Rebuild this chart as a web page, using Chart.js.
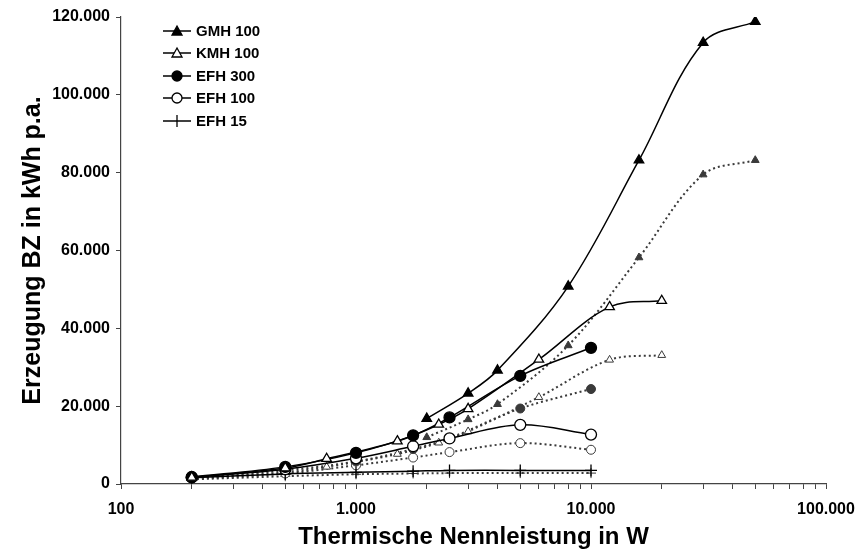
<!DOCTYPE html>
<html>
<head>
<meta charset="utf-8">
<script src="https://cdn.jsdelivr.net/npm/chart.js@4/dist/chart.umd.min.js"></script>
<style>
  body { margin: 0; background: #fff; }
  #wrap { width: 860px; height: 554px; }
</style>
</head>
<body>
<div id="wrap"><canvas id="chart" width="860" height="554"></canvas></div>
<script>
// x values (thermische Nennleistung in W) per Gebaeudetyp
const xGMH = [2000, 3000, 4000, 8000, 16000, 30000, 50000];
const xKMH = [200, 500, 750, 1500, 2250, 3000, 6000, 12000, 20000];
const xEFH = [200, 500, 1000, 1750, 2500, 5000, 10000];

// Erzeugung BZ in kWh p.a. (solid = labelled series, dotted = second variant)
const gmh100 = [16800, 23300, 29200, 50800, 83200, 113400, 118800];
const gmh100Dot = [12000, 16600, 20500, 35600, 58200, 79500, 83200];
const kmh100 = [1700, 4100, 6500, 11000, 15300, 19300, 32000, 45500, 47100];
const kmh100Dot = [1500, 3000, 4400, 7700, 10600, 13500, 22300, 31900, 33100];
const efh300 = [1800, 4400, 8000, 12500, 17100, 27800, 35000];
const efh300Dot = [1500, 3500, 5800, 9000, 11800, 19400, 24400];
const efh100 = [1700, 3800, 6600, 9700, 11700, 15200, 12700];
const efh100Dot = [1300, 2700, 4800, 6800, 8200, 10500, 8800];
const efh15 = [1600, 2600, 3000, 3300, 3500, 3500, 3500];
const efh15Dot = [1200, 2000, 2500, 2700, 2800, 2800, 2800];

const legendLabels = ['GMH 100', 'KMH 100', 'EFH 300', 'EFH 100', 'EFH 15'];

// log axis ticks: every 1..9 per decade from 100 to 100.000
const xTickValues = [];
[100, 1000, 10000].forEach(d => {
    for (let m = 1; m < 10; m++) xTickValues.push(d * m);
});
xTickValues.push(100000);

const FONT = "Arial, 'Liberation Sans', sans-serif";

function fmt(v) {
    return String(v).replace(/\B(?=(\d{3})+(?!\d))/g, '.');
}

function pts(xs, ys) {
    return xs.map((x, i) => ({ x: x, y: ys[i] }));
}

function solid(label, xs, ys, style, fill) {
    return {
        label: label,
        data: pts(xs, ys),
        borderColor: '#000',
        borderWidth: 1.5,
        pointStyle: style,
        pointRadius: style === 'cross' ? 6 : 5.5,
        pointBorderWidth: 1.3,
        pointBackgroundColor: fill,
        pointBorderColor: '#000',
        tension: 0.35,
        fill: false,
        order: 1
    };
}

function dotted(xs, ys, style, fill) {
    return {
        label: '',
        data: pts(xs, ys),
        borderColor: '#3a3a3a',
        borderWidth: 2,
        borderDash: [2, 3],
        pointStyle: style,
        pointRadius: style === 'cross' ? 5 : 4.5,
        pointBorderWidth: 1,
        pointBackgroundColor: fill,
        pointBorderColor: '#3a3a3a',
        tension: 0.35,
        fill: false,
        order: 2
    };
}

const datasets = [
    solid('GMH 100', xGMH, gmh100, 'triangle', '#000'),
    solid('KMH 100', xKMH, kmh100, 'triangle', '#fff'),
    solid('EFH 300', xEFH, efh300, 'circle', '#000'),
    solid('EFH 100', xEFH, efh100, 'circle', '#fff'),
    solid('EFH 15', xEFH, efh15, 'cross', '#000'),
    dotted(xGMH, gmh100Dot, 'triangle', '#3a3a3a'),
    dotted(xKMH, kmh100Dot, 'triangle', '#fff'),
    dotted(xEFH, efh300Dot, 'circle', '#3a3a3a'),
    dotted(xEFH, efh100Dot, 'circle', '#fff'),
    dotted(xEFH, efh15Dot, 'cross', '#3a3a3a')
];

// legend in the upper left corner: short line with marker, bold label
const legendPlugin = {
    id: 'lineLegend',
    afterDraw(chart) {
        const ctx = chart.ctx;
        const rowsY = [31, 53, 76, 98, 121];
        ctx.save();
        legendLabels.forEach((label, i) => {
            const ds = chart.data.datasets[i];
            const y = rowsY[i];
            ctx.strokeStyle = '#000';
            ctx.lineWidth = 1.5;
            ctx.beginPath();
            ctx.moveTo(163, y);
            ctx.lineTo(191, y);
            ctx.stroke();
            const cx = 177;
            ctx.fillStyle = ds.pointBackgroundColor;
            ctx.lineWidth = 1.3;
            ctx.beginPath();
            if (ds.pointStyle === 'triangle') {
                ctx.moveTo(cx, y - 5);
                ctx.lineTo(cx + 5, y + 4);
                ctx.lineTo(cx - 5, y + 4);
                ctx.closePath();
                ctx.fill();
                ctx.stroke();
            } else if (ds.pointStyle === 'circle') {
                ctx.arc(cx, y, 5, 0, Math.PI * 2);
                ctx.fill();
                ctx.stroke();
            } else {
                ctx.moveTo(cx, y - 6);
                ctx.lineTo(cx, y + 6);
                ctx.stroke();
            }
            ctx.fillStyle = '#000';
            ctx.font = 'bold 15px ' + FONT;
            ctx.textAlign = 'left';
            ctx.textBaseline = 'middle';
            ctx.fillText(label, 196, y + 1);
        });
        ctx.restore();
    }
};

new Chart(document.getElementById('chart').getContext('2d'), {
    type: 'line',
    data: { datasets: datasets },
    options: {
        responsive: false,
        animation: false,
        layout: { padding: { top: 17, right: 34, left: 0, bottom: 0 } },
        plugins: {
            legend: { display: false },
            tooltip: { enabled: false }
        },
        scales: {
            x: {
                type: 'logarithmic',
                min: 100,
                max: 100000,
                afterBuildTicks(scale) {
                    scale.ticks = xTickValues.map(v => ({ value: v }));
                },
                afterFit(scale) {
                    scale.height = 70;
                    scale.paddingLeft = 0;
                    scale.paddingRight = 0;
                },
                border: { color: '#444', width: 1.2 },
                grid: { drawOnChartArea: false, drawTicks: true, tickLength: 5, color: '#444' },
                ticks: {
                    autoSkip: false,
                    maxRotation: 0,
                    padding: 11,
                    color: '#000',
                    font: { family: FONT, size: 16, weight: 'bold' },
                    callback: (v) => [100, 1000, 10000, 100000].includes(v) ? fmt(v) : ''
                },
                title: {
                    display: true,
                    text: 'Thermische Nennleistung in W',
                    color: '#000',
                    font: { family: FONT, size: 24, weight: 'bold' },
                    padding: { top: 0, bottom: 2 }
                }
            },
            y: {
                min: 0,
                max: 120000,
                afterFit(scale) { scale.width = 121; },
                border: { color: '#444', width: 1.2 },
                grid: { drawOnChartArea: false, drawTicks: true, tickLength: 5, color: '#444' },
                ticks: {
                    stepSize: 20000,
                    padding: 6,
                    color: '#000',
                    font: { family: FONT, size: 16, weight: 'bold' },
                    callback: (v) => fmt(v)
                },
                title: {
                    display: true,
                    text: 'Erzeugung BZ in kWh p.a.',
                    color: '#000',
                    font: { family: FONT, size: 25, weight: 'bold' },
                    padding: { top: 18, bottom: 0 }
                }
            }
        }
    },
    plugins: [legendPlugin]
});
</script>
</body>
</html>
